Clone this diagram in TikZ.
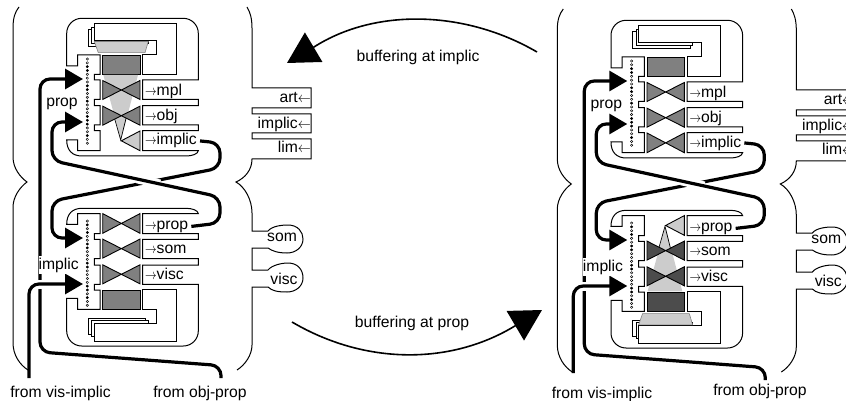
\documentclass[tikz,border=0pt]{standalone}
\usepackage{fontspec}
\usepackage{graphicx}
\setmainfont{Liberation Sans}
\usetikzlibrary{arrows.meta}

\definecolor{flowgray}{gray}{0.8}
\definecolor{midgray}{gray}{0.5}
\definecolor{deepgray}{gray}{0.3}

\newcommand{\toarr}{\scalebox{0.8}[1]{$\rightarrow$}}
\newcommand{\fromarr}{\scalebox{0.9}[1]{$\leftarrow$}}

\tikzset{
  lbl/.style={inner sep=0pt,font=\fontsize{15.7}{18}\selectfont},
  wire/.style={line width=1pt,line join=miter},
  tie/.style={line width=0.9pt},
  dot0/.style={line width=0.45pt,fill=white},
  dot1/.style={line width=0.45pt,fill=black},
  thickline/.style={line width=3.2pt,rounded corners=10pt,-{Triangle[length=18pt,width=20pt]}},
  halo/.style={line width=9pt,white},
  bigarrow/.style={line width=1.6pt,-{Triangle[length=31pt,width=34pt]}}
}

% #1 scope options, #2 block colour, #3 bow tie colour, #4 flow yes/no, #5 dots
\newcommand{\module}[5]{
\begin{scope}[#1]
%Umriss
\draw[wire] (66.7,66) [rounded corners=15pt] -- (66.7,18.3) -- (198.3,18.3) [sharp corners] -- (198.3,80) -- (142.7,80) -- (142.7,99.3) -- (198.3,99.3) -- (198.3,105.7) -- (142.7,105.7) -- (142.7,125) -- (198.3,125) -- (198.3,130.7) -- (142.7,130.7) -- (142.7,150.7) -- (198.3,150.7) .. controls (198,154) and (192,156) .. (186,156) -- (82,156) .. controls (72,156) and (66.7,150) .. (66.7,140) -- (77.7,140) -- (77.7,150.7) -- (100,150.7) -- (100,130.7) -- (94.3,130.7) -- (94.3,125) -- (100,125) -- (100,105.7) -- (94.3,105.7) -- (94.3,99.3) -- (100,99.3) -- (100,80) -- (94.3,80) -- (94.3,74.3) -- (100,74.3) -- (100,55) -- (77.7,55) -- (77.7,66) -- cycle;
%Blaetter
\draw[wire] (142.7,55) -- (156.7,55) -- (156.7,40.7) -- (94.3,40.7) -- (94.3,23.3) -- (176,23.3) -- (176,75) -- (142.7,75) -- cycle;
\draw[wire] (94.3,27.5) -- (91.7,27.5) -- (91.7,43.5) -- (148,43.5) -- (148,40.7);
\draw[wire] (91.7,29.5) -- (88.3,29.5) -- (88.3,46.3) -- (145.7,46.3) -- (145.7,43.5);
%Block
\draw[tie,fill=#2] (102.7,55) rectangle (140,74);
%Fluss
\ifnum#4=1
\draw[line width=0.6pt,draw=black!50,fill=flowgray] (94.3,41.5) -- (148.3,41.5) -- (145,52.7) -- (98.3,52.7) -- cycle;
\fill[flowgray] (103.3,75) -- (138,75) -- (121,140) -- cycle;
\draw[line width=0.7pt] (113.8,115.7) -- (120.7,140) -- (126.7,115.7);
\fi
%Fliegen
\foreach \y in {90,115.7} {
\draw[tie,fill=#3] (102.7,\y-9.5) -- (102.7,\y+9.5) -- (140,\y-9.5) -- (140,\y+9.5) -- cycle;
}
\ifnum#4=1
\draw[tie,fill=flowgray] (140,131) -- (140,150.7) -- (121.3,140.8) -- cycle;
\else
\draw[tie,fill=#3] (102.7,131) -- (102.7,150.7) -- (140,131) -- (140,150.7) -- cycle;
\fi
%Punkte
\foreach \d [count=\i from 0] in {#5} {
\draw[dot\d] (87.3,59+\i*3.83) circle (1.2);
}
\end{scope}
}

% #1 scope options, #2 block and bow tie colour below, #3 flow below, #4 flow above, #5 lower end of vis line
\newcommand{\panel}[5]{
\module{#1}{midgray}{midgray}{#4}{0,0,1,1,0,0,0,1,1,0,0,1,0,0,0,1,1,1,0,0,1,0,0}
\module{#1,shift={(0,364.3)},yscale=-1}{#2}{#2}{#3}{0,0,1,0,1,1,0,0,0,0,1,1,0,0,0,1,1,0,0,1,0,1,0}
\begin{scope}[#1]
%Rahmen
\draw[wire] (19,7) .. controls (15,12) and (13,18) .. (13,28) -- (13,157) .. controls (13,168) and (20,177) .. (27,182) .. controls (20,187) and (13,197) .. (13,207) -- (13,343) .. controls (13,355) and (20,365) .. (28,370);
\draw[wire] (247,7) .. controls (250,12) and (252,18) .. (252,28) -- (252,88) -- (311,88) -- (311,108) -- (252,108) -- (252,114) -- (311,114) -- (311,133) -- (252,133) -- (252,139) -- (311,139) -- (311,159) -- (252,159) .. controls (252,170) and (245,178) .. (236,182) .. controls (245,187) and (252,200) .. (252,213) -- (252,231) -- (268,231) .. controls (272,226) and (282,225) .. (288,225) .. controls (298,225) and (303,232) .. (303,239) .. controls (303,247) and (296,253) .. (287,253) .. controls (278,253) and (272,251) .. (268,248) -- (252,248) -- (252,270) -- (268,270) .. controls (272,265) and (282,263) .. (288,263) .. controls (298,263) and (303,270) .. (303,278) .. controls (303,286) and (296,292) .. (287,292) .. controls (278,292) and (272,291) .. (268,287) -- (252,287) -- (252,345) .. controls (252,355) and (245,365) .. (237,370);
%Texte
\node[lbl,anchor=base west] (mplOut) at (145,95.3) {\toarr mpl};
\node[lbl,anchor=base west] (objOut) at (145,120.7) {\toarr obj};
\node[lbl,anchor=base west] (implicOut) at (145,145) {\toarr implic};
\node[lbl,anchor=base west] (propOut) at (145,229) {\toarr prop};
\node[lbl,anchor=base west] (somOut) at (145,253) {\toarr som};
\node[lbl,anchor=base west] (viscOut) at (145,279) {\toarr visc};
\node[lbl,anchor=base east] (artIn) at (311,102.7) {art\fromarr};
\node[lbl,anchor=base east] (implicIn) at (311,129) {implic\fromarr};
\node[lbl,anchor=base east] (limIn) at (311,153) {lim\fromarr};
\node[lbl,anchor=base] (somLobe) at (282,241.7) {som};
\node[lbl,anchor=base] (viscLobe) at (284,284) {visc};
\coordinate (propTopIn) at (83,79);
\coordinate (propLowIn) at (83,122);
\coordinate (implicTopIn) at (83,238);
\coordinate (implicLowIn) at (83,284);
\coordinate (objStart) at (221,378);
\coordinate (visStart) at (29,#5);
%Ringe
\draw[thickline] (implicOut.east) ++(3,0) -- (220,143) -- (220,168) -- (52,201) -- (52,238) -- (implicTopIn);
\draw[halo] (137,178.8) -- (160,184);
\draw[thickline] (propOut.east) ++(3,0) -- (220,223) -- (220,197) -- (52,160.6) -- (52,122) -- (propLowIn);
%Zufuehrung
\draw[thickline] (objStart) -- (221,365.6) -- (40,352) -- (40,79) -- (propTopIn);
\draw[halo] (36,284) -- (47,284);
\draw[thickline] (visStart) -- (29,284) -- (implicLowIn);
\node[lbl,anchor=base,fill=white,inner ysep=2pt] (implicLbl) at (58.7,269) {implic};
\node[lbl,anchor=base] (propLbl) at (62,106.7) {prop};
\end{scope}
}

\begin{document}
\begin{tikzpicture}[x=1pt,y=-1pt]
\useasboundingbox (0,0) rectangle (846,401);

\panel{name prefix=L}{midgray}{0}{1}{378}
\panel{name prefix=R,shift={(544.3,2)}}{deepgray}{1}{0}{371}

%Pfeile
\coordinate (implicFrom) at (537,52);
\coordinate (implicTo) at (287,63);
\coordinate (propFrom) at (292,322);
\coordinate (propTo) at (542,310);
\draw[bigarrow] (implicFrom) .. controls (465,10) and (375,8) .. (314,47) -- (implicTo);
\draw[bigarrow] (propFrom) .. controls (365,365) and (450,365) .. (514,326.5) -- (propTo);
\node[lbl,anchor=base] (implicBuf) at (418,61.7) {buffering at implic};
\node[lbl,anchor=base] (propBuf) at (412,327) {buffering at prop};

\node[lbl,anchor=base] (visFromL) at (60.5,397) {from vis-implic};
\node[lbl,anchor=base] (objFromL) at (200,397) {from obj-prop};
\node[lbl,anchor=base] (visFromR) at (602,398) {from vis-implic};
\node[lbl,anchor=base] (objFromR) at (760,395) {from obj-prop};
\end{tikzpicture}
\end{document}
